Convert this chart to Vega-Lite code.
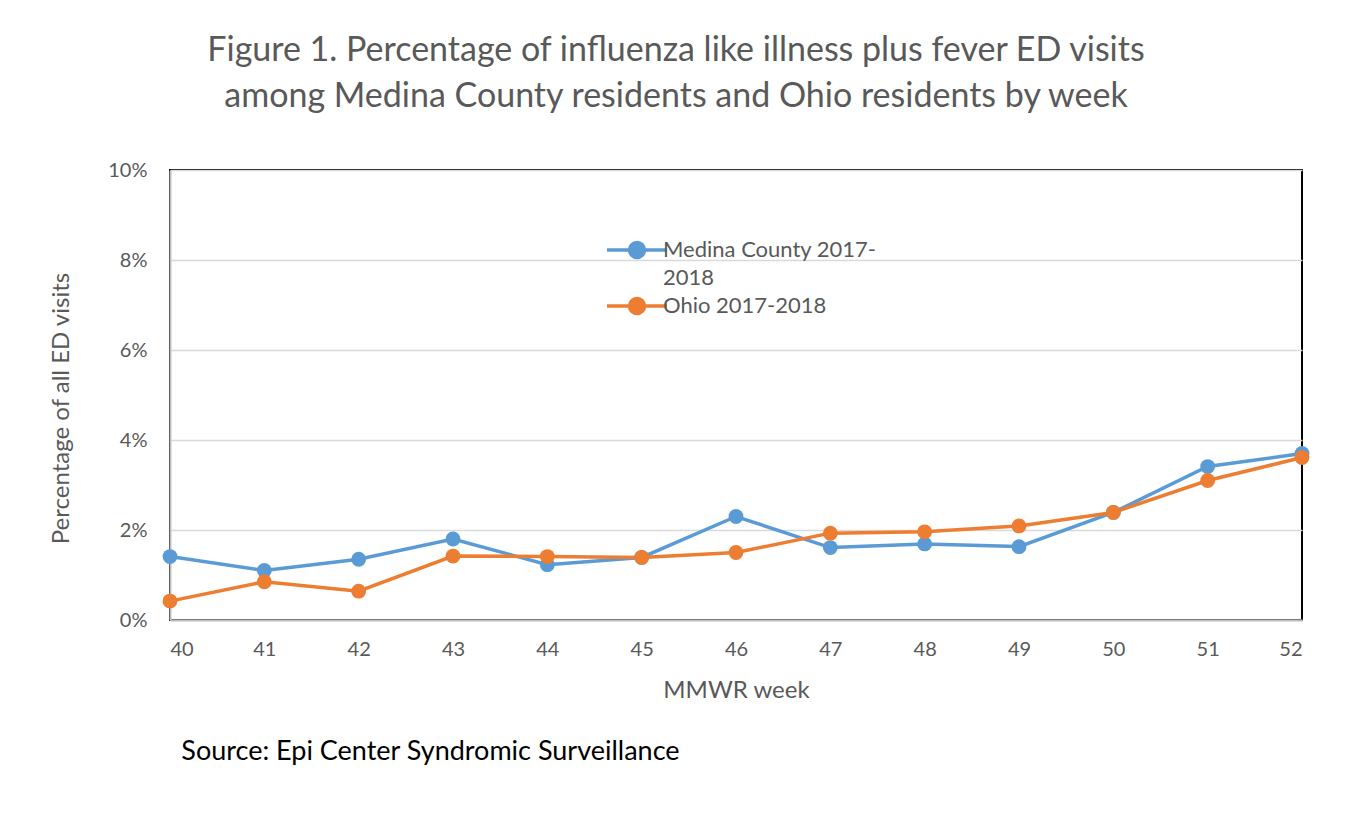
{
  "$schema": "https://vega.github.io/schema/vega-lite/v6.json",
  "width": 1132,
  "height": 450,
  "autosize": {"type": "none"},
  "padding": {"left": 170, "top": 170, "right": 47, "bottom": 203},
  "background": "white",
  "title": {
    "text": ["Figure 1. Percentage of influenza like illness plus fever ED visits", "among Medina County residents and Ohio residents by week"],
    "anchor": "middle",
    "dx": -60,
    "offset": 46,
    "fontSize": 34,
    "lineHeight": 46,
    "font": "Lato",
    "fontWeight": "normal",
    "color": "#595959"
  },
  "config": {
    "font": "Lato",
    "view": {"stroke": "#000000", "strokeWidth": 2},
    "axis": {
      "labelFont": "Lato",
      "titleFont": "Lato",
      "labelColor": "#595959",
      "titleColor": "#595959",
      "labelFontSize": 20,
      "titleFontSize": 24,
      "titleFontWeight": "normal",
      "ticks": false,
      "domainColor": "#BFBFBF",
      "domainWidth": 2,
      "gridColor": "#D9D9D9",
      "gridWidth": 1.5
    }
  },
  "layer": [
    {
      "data": {
        "values": [
          {"week": 40, "series": "Medina County 2017-2018", "pct": 0.0141},
          {"week": 41, "series": "Medina County 2017-2018", "pct": 0.0110},
          {"week": 42, "series": "Medina County 2017-2018", "pct": 0.0135},
          {"week": 43, "series": "Medina County 2017-2018", "pct": 0.0180},
          {"week": 44, "series": "Medina County 2017-2018", "pct": 0.0123},
          {"week": 45, "series": "Medina County 2017-2018", "pct": 0.0139},
          {"week": 46, "series": "Medina County 2017-2018", "pct": 0.0230},
          {"week": 47, "series": "Medina County 2017-2018", "pct": 0.0161},
          {"week": 48, "series": "Medina County 2017-2018", "pct": 0.0169},
          {"week": 49, "series": "Medina County 2017-2018", "pct": 0.0163},
          {"week": 50, "series": "Medina County 2017-2018", "pct": 0.0239},
          {"week": 51, "series": "Medina County 2017-2018", "pct": 0.0341},
          {"week": 52, "series": "Medina County 2017-2018", "pct": 0.0370},
          {"week": 40, "series": "Ohio 2017-2018", "pct": 0.0042},
          {"week": 41, "series": "Ohio 2017-2018", "pct": 0.0085},
          {"week": 42, "series": "Ohio 2017-2018", "pct": 0.0064},
          {"week": 43, "series": "Ohio 2017-2018", "pct": 0.0142},
          {"week": 44, "series": "Ohio 2017-2018", "pct": 0.0141},
          {"week": 45, "series": "Ohio 2017-2018", "pct": 0.0139},
          {"week": 46, "series": "Ohio 2017-2018", "pct": 0.0150},
          {"week": 47, "series": "Ohio 2017-2018", "pct": 0.0193},
          {"week": 48, "series": "Ohio 2017-2018", "pct": 0.0196},
          {"week": 49, "series": "Ohio 2017-2018", "pct": 0.0209},
          {"week": 50, "series": "Ohio 2017-2018", "pct": 0.0239},
          {"week": 51, "series": "Ohio 2017-2018", "pct": 0.0310},
          {"week": 52, "series": "Ohio 2017-2018", "pct": 0.0361}
        ]
      },
      "mark": {"type": "line", "strokeWidth": 3.5, "point": {"filled": true, "size": 220, "opacity": 1}},
      "encoding": {
        "x": {
          "field": "week",
          "type": "quantitative",
          "scale": {"domain": [40, 52], "nice": false, "zero": false},
          "axis": {"title": "MMWR week", "values": [40,41,42,43,44,45,46,47,48,49,50,51,52], "format": "d", "grid": false, "labelPadding": 19, "titlePadding": 19}
        },
        "y": {
          "field": "pct",
          "type": "quantitative",
          "scale": {"domain": [0, 0.1], "nice": false},
          "axis": {"title": "Percentage of all ED visits", "values": [0, 0.02, 0.04, 0.06, 0.08, 0.1], "format": ".0%", "labelPadding": 23, "titlePadding": 34, "titleY": 238}
        },
        "color": {
          "field": "series",
          "type": "nominal",
          "scale": {"domain": ["Medina County 2017-2018", "Ohio 2017-2018"], "range": ["#5B9BD5", "#ED7D31"]},
          "legend": {
            "title": null,
            "orient": "none",
            "legendX": 450,
            "legendY": 63,
            "symbolType": "M-2,0H-0.5M0.5,0H2M-0.5,0A0.5,0.5 0 1 1 0.5,0A0.5,0.5 0 1 1 -0.5,0Z",
            "symbolSize": 900,
            "symbolStrokeWidth": 3.5,
            "labelFontSize": 22,
            "labelColor": "#595959",
            "labelFont": "Lato",
            "labelLimit": 400,
            "labelOffset": 9,
            "rowPadding": -6,
            "labelExpr": "datum.label == 'Medina County 2017-2018' ? ['Medina County 2017-', '2018'] : datum.label",
            "encode": {
              "symbols": {
                "update": {
                  "fill": {"scale": "color", "field": "value"},
                  "stroke": {"scale": "color", "field": "value"},
                  "strokeWidth": {"value": 3.5},
                  "opacity": {"value": 1}
                }
              },
              "labels": {
                "update": {
                  "lineHeight": {"value": 28}
                }
              }
            }
          }
        }
      }
    },
    {
      "data": {"values": [{"note": "Source: Epi Center Syndromic Surveillance"}]},
      "mark": {"type": "text", "align": "left", "baseline": "middle", "fontSize": 27, "font": "Lato", "fill": "#000000"},
      "encoding": {
        "x": {"datum": 40.12, "type": "quantitative"},
        "y": {"datum": -0.0293, "type": "quantitative"},
        "text": {"field": "note", "type": "nominal"}
      }
    }
  ]
}
